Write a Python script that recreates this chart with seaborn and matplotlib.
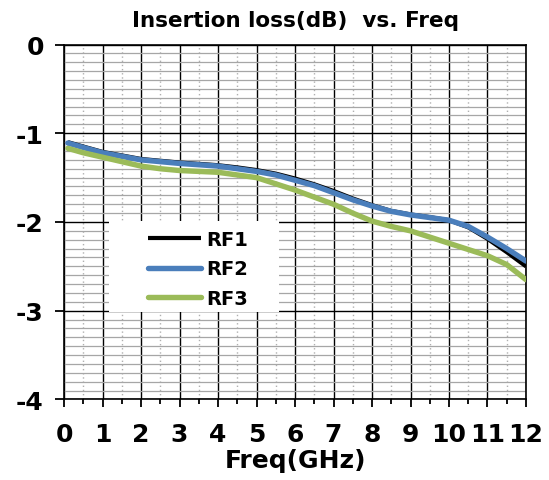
import pandas as pd
import matplotlib
matplotlib.use("Agg")
import matplotlib.pyplot as plt
import seaborn as sns
from matplotlib.patches import Rectangle
from matplotlib.ticker import MultipleLocator

# ===========================
# DATA
# ===========================
freq = [0.1, 0.5, 1, 1.5, 2, 2.5, 3, 3.5, 4, 4.5, 5, 5.5, 6,
        6.5, 7, 7.5, 8, 8.5, 9, 9.5, 10, 10.5, 11, 11.5, 12]

rf1 = [-1.10, -1.15, -1.21, -1.25, -1.29, -1.31, -1.33, -1.345, -1.36, -1.385,
       -1.415, -1.455, -1.51, -1.575, -1.65, -1.735, -1.81, -1.875, -1.915,
       -1.945, -1.98, -2.06, -2.19, -2.34, -2.50]
rf2 = [-1.11, -1.16, -1.22, -1.26, -1.30, -1.32, -1.34, -1.355, -1.37, -1.40,
       -1.43, -1.47, -1.53, -1.59, -1.67, -1.75, -1.82, -1.88, -1.92,
       -1.95, -1.98, -2.05, -2.17, -2.30, -2.44]
rf3 = [-1.17, -1.22, -1.27, -1.32, -1.37, -1.40, -1.42, -1.43, -1.44, -1.47,
       -1.50, -1.57, -1.64, -1.72, -1.80, -1.90, -1.99, -2.05, -2.10,
       -2.17, -2.24, -2.31, -2.38, -2.48, -2.65]

series = {"RF1": rf1, "RF2": rf2, "RF3": rf3}
colors = {"RF1": "#000000", "RF2": "#4a7ebb", "RF3": "#9bbb59"}
widths = {"RF1": 3.0, "RF2": 3.9, "RF3": 3.9}
caps = {"RF1": "butt", "RF2": "round", "RF3": "round"}

df = pd.DataFrame({"Freq": freq, **series}).melt(
    id_vars="Freq", var_name="Port", value_name="IL")

# ===========================
# STYLE
# ===========================
sns.set_style("white")
plt.rcParams["font.family"] = ["DejaVu Sans"]
plt.rcParams["font.weight"] = "bold"
plt.rcParams["axes.unicode_minus"] = False
plt.rcParams["text.color"] = "black"
plt.rcParams["axes.labelcolor"] = "black"
plt.rcParams["xtick.color"] = "black"
plt.rcParams["ytick.color"] = "black"

fig = plt.figure(figsize=(5.49, 4.81), dpi=100)
ax = fig.add_axes([0.1166, 0.1674, 0.8415, 0.738])

for name in series:
    sns.lineplot(
        data=df[df["Port"] == name], x="Freq", y="IL",
        color=colors[name], lw=widths[name], label=name,
        solid_capstyle=caps[name], ax=ax, zorder=3,
    )

ax.set_xlim(0, 12)
ax.set_ylim(-4, 0)
ax.xaxis.set_major_locator(MultipleLocator(1))
ax.xaxis.set_minor_locator(MultipleLocator(0.5))
ax.yaxis.set_major_locator(MultipleLocator(1))
ax.yaxis.set_minor_locator(MultipleLocator(0.1))

ax.set_axisbelow(True)
ax.grid(which="major", color="black", lw=1.0)
ax.yaxis.grid(which="minor", color="#a6a6a6", lw=0.9)
ax.xaxis.grid(which="minor", color="#b0b0b0", lw=1.0, linestyle=(0, (1, 2)))

for sp in ax.spines.values():
    sp.set_color("black")
    sp.set_linewidth(1.2)

ax.tick_params(axis="x", which="major", direction="out", length=5.5, width=1.3,
               labelsize=18, pad=10.5, bottom=True, colors="black")
ax.tick_params(axis="x", which="minor", direction="out", length=3.5, width=1.3,
               bottom=True, colors="black")
ax.tick_params(axis="y", which="major", direction="out", length=6.5, width=1.3,
               labelsize=18, pad=8, left=True, colors="black")
ax.tick_params(axis="y", which="minor", left=False)
for lab in ax.get_xticklabels() + ax.get_yticklabels():
    lab.set_fontweight("bold")

ax.set_title("Insertion loss(dB)  vs. Freq", fontsize=15.5, fontweight="bold",
             pad=13, color="black")
ax.set_xlabel("Freq(GHz)", fontsize=18, fontweight="bold", labelpad=2,
              color="black")
ax.set_ylabel("")

# white legend area
ax.add_patch(Rectangle((0.097, 0.246), 0.368, 0.256, transform=ax.transAxes,
                       facecolor="white", edgecolor="none", zorder=2.5))
leg = ax.legend(loc="upper left", bbox_to_anchor=(0.165, 0.50), frameon=False,
                fontsize=14, handlelength=2.7, handletextpad=0.3,
                labelspacing=0.55, borderaxespad=0)
leg.set_zorder(4)
for t in leg.get_texts():
    t.set_fontweight("bold")
    t.set_color("black")

fig.savefig("out.png", dpi=100)
